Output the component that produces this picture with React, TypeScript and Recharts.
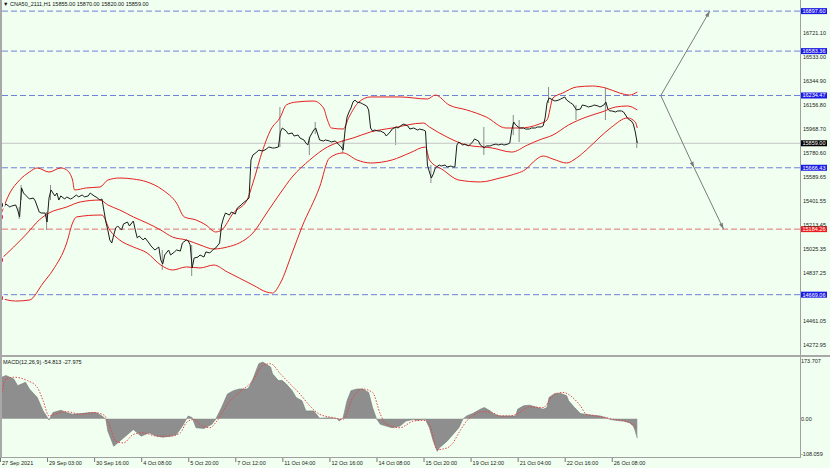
import { ComposedChart, Line, Bar, Area, XAxis, YAxis, ReferenceLine } from "recharts"

const BG = "#f0fff0"
const FONT = "Liberation Sans"

// header (last bar OHLC)
const symbolName = "CNA50_2111,H1"
const lastOHLC = [15855.0, 15870.0, 15820.0, 15859.0]
const macdTitle = "MACD(12,26,9) -54.813 -27.975"

// time axis: one label every 24 H1 bars
const timeLabels = [
  "27 Sep 2021", "29 Sep 03:00", "30 Sep 16:00", "4 Oct 08:00", "5 Oct 20:00",
  "7 Oct 12:00", "11 Oct 04:00", "12 Oct 16:00", "14 Oct 08:00", "15 Oct 20:00",
  "19 Oct 12:00", "21 Oct 04:00", "22 Oct 16:00", "26 Oct 08:00",
]
const timeTicks = timeLabels.map((_, k) => k * 24)

const priceTicks = [
  14272.95, 14461.05, 14837.25, 15025.35, 15213.45, 15401.55, 15589.65,
  15780.6, 15968.7, 16156.8, 16344.9, 16533.0, 16721.1,
]
const macdTicks = [173.707, 0, -108.059]

// [bar index, close]
const closes: [number, number][] = [
  [0,15374],[2,15358],[3,15382],[5,15358],[6,15366],[8,15374],[9,15335],[10,15280],[11,15508],[12,15468],
  [14,15437],[15,15421],[17,15429],[18,15405],[20,15319],[21,15311],[23,15311],[24,15240],[25,15429],[26,15492],
  [28,15445],[29,15468],[30,15413],[31,15445],[33,15421],[34,15437],[36,15421],[37,15429],[39,15453],[40,15437],
  [42,15453],[43,15437],[45,15445],[46,15468],[48,15445],[49,15437],[51,15413],[52,15421],[54,15240],[55,15177],
  [56,15099],[57,15075],[58,15138],[59,15193],[60,15209],[62,15177],[63,15225],[65,15240],[66,15209],[68,15248],
  [69,15177],[70,15115],[71,15130],[73,15099],[74,15115],[76,15075],[77,15052],[79,15020],[81,15044],[82,14942],
  [83,14910],[84,14981],[86,15020],[87,14981],[89,15005],[90,15020],[92,15012],[93,15075],[95,15099],[96,15091],
  [97,15060],[98,14879],[99,14957],[101,14965],[102,14981],[104,14965],[105,15005],[107,14997],[109,15028],[110,15036],
  [112,15075],[113,15217],[114,15272],[115,15311],[117,15295],[118,15319],[120,15303],[121,15350],[123,15374],[124,15390],
  [126,15413],[127,15429],[128,15728],[129,15767],[131,15790],[132,15806],[134,15798],[136,15814],[137,15830],[139,15822],
  [140,15822],[142,15830],[143,15948],[144,15979],[146,15955],[147,15932],[149,15940],[150,15916],[152,15924],[153,15900],
  [155,15885],[156,15861],[157,15845],[158,15908],[160,15963],[161,15979],[162,15932],[163,15885],[165,15877],[166,15885],
  [168,15877],[169,15869],[171,15877],[172,15861],[174,15830],[175,15806],[176,15963],[177,16065],[178,16105],[179,16136],
  [180,16183],[181,16199],[182,16183],[184,16176],[185,16168],[187,16152],[188,16121],[189,15979],[190,15955],[191,15963],
  [193,15955],[194,15955],[196,15940],[197,15916],[199,15948],[200,15971],[202,15987],[203,15979],[205,16003],[206,16010],
  [208,15995],[209,15971],[211,15979],[213,15963],[214,15971],[216,15963],[217,15955],[218,15688],[219,15633],[220,15586],
  [221,15618],[222,15665],[224,15688],[225,15680],[227,15688],[228,15673],[230,15680],[231,15673],[232,15673],[233,15845],
  [234,15869],[236,15845],[237,15853],[239,15838],[241,15869],[242,15893],[244,15877],[245,15845],[247,15822],[248,15838],
  [250,15838],[251,15845],[253,15853],[254,15845],[256,15853],[257,15845],[259,15853],[260,15861],[261,15963],[262,16026],
  [263,16003],[265,15979],[267,15979],[268,15971],[270,15971],[271,15979],[273,15979],[274,15987],[276,15987],[277,15995],
  [278,16058],[279,16176],[280,16215],[282,16199],[283,16191],[285,16199],[286,16207],[288,16223],[289,16199],[291,16176],
  [292,16168],[294,16121],[296,16128],[297,16160],[299,16152],[300,16144],[302,16152],[303,16160],[305,16152],[306,16144],
  [308,16160],[309,16183],[310,16128],[311,16113],[312,16113],[314,16105],[315,16113],[317,16113],[318,16105],[320,16058],
  [321,16042],[322,16034],[323,16010],[324,15948],[325,15859],
]

// [bar index, low, high] for the long wicks
const wicks: [number, number, number][] = [
  [10,15264,15358],[11,15413,15531],[24,15177,15319],[26,15413,15531],[83,14863,15020],[98,14816,15060],
  [143,15830,16144],[158,15767,15908],[161,15932,16026],[175,15783,15885],[202,15845,15987],[220,15547,15688],
  [247,15767,15987],[262,15924,16081],[265,15869,16042],[280,16176,16301],[294,16042,16160],[309,16042,16293],
  [325,15822,15885],
]

// Bollinger bands
const bbUpper: [number, number][] = [
  [0,15280],[5,15468],[10,15570],[15,15633],[19,15665],[25,15633],[31,15665],[34,15649],[37,15570],[38,15492],
  [44,15508],[51,15515],[55,15570],[61,15586],[68,15578],[75,15555],[83,15492],[90,15390],[94,15280],[100,15256],
  [105,15217],[110,15162],[113,15177],[119,15311],[126,15413],[129,15547],[134,15806],[138,15963],[143,16065],[146,16160],
  [151,16183],[160,16191],[165,16136],[167,16042],[169,15979],[175,15971],[178,16065],[183,16183],[189,16223],[204,16223],
  [218,16207],[222,16238],[229,16160],[238,16121],[248,16065],[258,15979],[265,15979],[275,16010],[279,16042],[282,16215],
  [287,16254],[294,16301],[302,16309],[309,16293],[316,16254],[321,16238],[325,16262],
]
const bbMiddle: [number, number][] = [
  [0,14942],[7,15044],[14,15154],[20,15256],[25,15311],[34,15358],[41,15398],[51,15413],[55,15374],[61,15335],
  [68,15280],[75,15232],[82,15177],[88,15122],[95,15099],[102,15060],[109,15028],[116,15044],[122,15075],[129,15154],
  [136,15311],[143,15468],[149,15594],[158,15728],[167,15830],[173,15869],[180,15900],[189,15948],[200,15979],[216,16018],
  [219,15987],[228,15908],[238,15845],[251,15822],[261,15790],[269,15845],[275,15885],[282,15924],[290,16003],[299,16065],
  [307,16105],[314,16144],[320,16152],[325,16121],
]
const bbLower: [number, number][] = [
  [0,14643],[8,14619],[15,14627],[22,14761],[27,14863],[34,15075],[37,15232],[39,15280],[51,15295],[52,15295],
  [56,15177],[61,15099],[68,15044],[75,14997],[82,14902],[88,14863],[95,14887],[102,14879],[109,14902],[116,14847],
  [122,14800],[129,14745],[136,14690],[139,14682],[143,14761],[149,14997],[154,15201],[163,15515],[168,15743],[175,15783],
  [182,15728],[189,15704],[200,15728],[209,15783],[217,15830],[219,15728],[226,15649],[234,15570],[245,15555],[255,15586],
  [261,15610],[269,15665],[272,15712],[277,15759],[282,15735],[289,15704],[294,15743],[299,15806],[306,15908],[312,15987],
  [320,16058],[324,16026],[325,15979],
]

// MACD main (histogram) and signal
const macdHist: [number, number][] = [
  [0,100],[1,116.7],[3,121.5],[7,112],[9,93],[11,97.7],[13,102.5],[15,83.5],[19,59.8],[22,21.8],[25,-3.8],
  [27,17.1],[31,23.7],[34,17.1],[37,12.3],[41,14.2],[46,17.1],[49,17.1],[52,7.6],[54,-1.9],[55,-35.1],
  [58,-77.8],[60,-68.3],[64,-49.3],[68,-30.4],[70,-39.9],[72,-49.3],[76,-39.9],[80,-49.3],[83,-52.2],[87,-49.3],
  [90,-44.6],[93,-20.9],[96,7.6],[98,2.8],[100,-25.6],[104,-27.5],[108,-16.1],[110,-1.9],[113,31.3],[116,69.3],
  [119,78.8],[122,83.5],[126,83.5],[127,88.3],[129,112],[132,154.7],[134,159.4],[138,145.2],[139,126.2],[142,107.2],
  [144,107.2],[146,97.7],[149,78.8],[151,59.8],[154,50.3],[156,21.8],[160,21.8],[163,0.9],[168,2.8],[172,0],
  [173,-6.6],[175,2.8],[177,50.3],[179,78.8],[182,83.5],[185,83.5],[188,74],[190,31.3],[192,0],[194,-16.1],
  [197,-20.9],[200,-25.6],[204,-20.9],[207,-6.6],[211,-1.9],[212,-4.7],[217,-1.9],[219,-25.6],[221,-63.6],[223,-92.1],
  [224,-82.6],[228,-63.6],[231,-44.6],[234,-25.6],[236,-1.9],[238,7.6],[241,14.2],[245,26.6],[247,31.3],[250,21.8],
  [252,12.3],[255,7.6],[258,7.6],[263,7.6],[264,26.6],[267,36.1],[270,38],[273,33.2],[277,26.6],[279,31.3],
  [280,59.8],[283,71.2],[286,71.2],[289,64.5],[290,50.3],[293,31.3],[296,14.2],[301,10.4],[306,7.6],[309,2.8],
  [311,-1.9],[314,-4.7],[318,-6.6],[321,-11.4],[323,-20.9],[324,-35.1],[325,-54.8],
]
const macdSignal: [number, number][] = [
  [0,40.8],[3,112],[7,116.7],[14,107.2],[19,88.3],[22,50.3],[25,7.6],[29,14.2],[34,19.9],[41,12.3],
  [48,17.1],[53,10.4],[56,-20.9],[59,-63.6],[63,-68.3],[68,-44.6],[73,-39.9],[80,-49.3],[87,-49.3],[92,-39.9],
  [95,-11.4],[99,-1.9],[102,-16.1],[107,-25.6],[110,-11.4],[116,40.8],[122,74],[129,107.2],[134,149.9],[138,154.7],
  [143,126.2],[148,97.7],[153,69.3],[158,36.1],[163,12.3],[170,2.8],[175,-1.9],[180,59.8],[185,83.5],[190,74],
  [194,12.3],[197,-16.1],[204,-25.6],[211,-6.6],[216,-4.7],[219,-16.1],[223,-87.3],[228,-82.6],[231,-68.3],[234,-39.9],
  [238,-6.6],[241,7.6],[246,19.9],[251,17.1],[255,7.6],[260,7.6],[265,17.1],[270,33.2],[277,31.3],[282,64.5],
  [287,74],[292,59.8],[296,36.1],[299,12.3],[304,7.6],[309,2.8],[313,-1.9],[316,-4.7],[321,-11.4],[323,-18],[325,-28],
]

// horizontal levels drawn on the chart
const levels = [
  { value: 16897.6, kind: "blue" },
  { value: 16583.36, kind: "blue" },
  { value: 16234.47, kind: "blue" },
  { value: 15666.43, kind: "blue" },
  { value: 15184.26, kind: "red" },
  { value: 14669.06, kind: "blue" },
]
const currentPrice = 15859.0

// projection arrows, [bar index, price]
const arrows: { from: [number, number]; to: [number, number] }[] = [
  { from: [337, 16234.47], to: [362, 16897.6] },
  { from: [337, 16234.47], to: [354, 15666.43] },
  { from: [354, 15666.43], to: [369, 15184.26] },
]

function merge(series: Record<string, [number, number][]>) {
  const rows = new Map<number, any>()
  for (const [key, pts] of Object.entries(series)) {
    for (const [i, v] of pts) {
      const row = rows.get(i) ?? { i }
      row[key] = v
      rows.set(i, row)
    }
  }
  return rows
}

const mainRows = merge({ close: closes, upper: bbUpper, mid: bbMiddle, lower: bbLower })
for (const [i, lo, hi] of wicks) {
  const row = mainRows.get(i) ?? { i }
  row.wick = [lo, hi]
  mainRows.set(i, row)
}
const mainData = [...mainRows.values()].sort((a, b) => a.i - b.i)
const macdData = [...merge({ hist: macdHist, sig: macdSignal }).values()].sort((a, b) => a.i - b.i)

const tagColor: Record<string, string> = { blue: "#1a1ae6", red: "#ee1c1c", black: "#000000" }
const lineColor: Record<string, string> = { blue: "#6f80d8", red: "#e07272" }

function LevelTag({ viewBox, value, kind }: any) {
  if (!viewBox) return null
  const x = viewBox.x + viewBox.width + 1
  const y = viewBox.y
  return (
    <g>
      <rect x={x} y={y - 3} width={26} height={6} fill={tagColor[kind]} />
      <text x={x + 1.5} y={y + 2} fontSize={5.5} fill="#fff" fontFamily={FONT}>
        {value.toFixed(2)}
      </text>
    </g>
  )
}

function ArrowShape(props: any) {
  const { x1, y1, x2, y2 } = props
  const a = Math.atan2(y2 - y1, x2 - x1)
  const bx = x2 - 6 * Math.cos(a)
  const by = y2 - 6 * Math.sin(a)
  const px = -Math.sin(a) * 2
  const py = Math.cos(a) * 2
  return (
    <g>
      <line x1={x1} y1={y1} x2={x2} y2={y2} stroke="#7c7c7c" strokeWidth={1} />
      <polygon points={`${x2},${y2} ${bx + px},${by + py} ${bx - px},${by - py}`} fill="#7c7c7c" />
    </g>
  )
}

const PriceTick = ({ x, y, payload }: any) => (
  <text x={x + 3} y={y + 1.5} fontSize={5.5} fill="#222" fontFamily={FONT}>
    {payload.value.toFixed(2)}
  </text>
)

const MacdTick = ({ x, y, payload }: any) => {
  const v = payload.value
  const dy = v > 0 ? 6 : v < 0 ? -1 : 2
  return (
    <text x={x + 1} y={y + dy} fontSize={5.5} fill="#222" fontFamily={FONT}>
      {v === 0 ? "0.00" : v.toFixed(3)}
    </text>
  )
}

const TimeTick = ({ x, y, payload }: any) => (
  <g>
    <line x1={x + 0.5} x2={x + 0.5} y1={y} y2={y + 5} stroke="#777" />
    <text x={x + 2} y={y + 8} fontSize={5.5} fill="#222" fontFamily={FONT}>
      {timeLabels[timeTicks.indexOf(payload.value)]}
    </text>
  </g>
)

export default function App() {
  return (
    <div style={{ position: "relative", width: 830, height: 468, background: BG, overflow: "hidden" }}>
      <style>{"body{margin:0}"}</style>
      <div style={{ position: "absolute", left: 0, top: 0 }}>
        <ComposedChart width={830} height={355} data={mainData} margin={{ top: 0, right: 0, bottom: 0, left: 0 }}>
          <XAxis dataKey="i" type="number" domain={[0, 408]} hide height={0} />
          <YAxis
            orientation="right"
            width={30}
            domain={[14195, 16985]}
            ticks={priceTicks}
            interval={0}
            allowDataOverflow
            axisLine={false}
            tickLine={false}
            tickSize={0}
            tickMargin={0}
            tick={<PriceTick />}
          />
          <ReferenceLine y={currentPrice} stroke="#c4c4c4" strokeWidth={1}
            label={<LevelTag value={currentPrice} kind="black" />} />
          {levels.map((l) => (
            <ReferenceLine key={l.value} y={l.value} stroke={lineColor[l.kind]} strokeDasharray="6 3"
              label={<LevelTag value={l.value} kind={l.kind} />} />
          ))}
          <Line dataKey="upper" type="monotone" stroke="#e52020" strokeWidth={1} dot={false} connectNulls isAnimationActive={false} />
          <Line dataKey="mid" type="monotone" stroke="#e52020" strokeWidth={1} dot={false} connectNulls isAnimationActive={false} />
          <Line dataKey="lower" type="monotone" stroke="#e52020" strokeWidth={1} dot={false} connectNulls isAnimationActive={false} />
          <Bar dataKey="wick" fill="#8a8a8a" barSize={1} isAnimationActive={false} />
          <Line dataKey="close" type="linear" stroke="#1c1c1c" strokeWidth={1} dot={false} connectNulls isAnimationActive={false} />
          {arrows.map((a, k) => (
            <ReferenceLine key={k} segment={[{ x: a.from[0], y: a.from[1] }, { x: a.to[0], y: a.to[1] }]}
              shape={ArrowShape} />
          ))}
        </ComposedChart>
      </div>
      <div style={{ position: "absolute", left: 0, top: 355 }}>
        <ComposedChart width={830} height={113} data={macdData} margin={{ top: 2, right: 0, bottom: 0, left: 0 }}>
          <XAxis
            dataKey="i"
            type="number"
            domain={[0, 408]}
            ticks={timeTicks}
            interval={0}
            height={11}
            axisLine={false}
            tickLine={false}
            tickSize={0}
            tickMargin={0}
            tick={<TimeTick />}
          />
          <YAxis
            orientation="right"
            width={30}
            domain={[-108.059, 173.707]}
            ticks={macdTicks}
            interval={0}
            allowDataOverflow
            axisLine={false}
            tickLine={false}
            tickSize={0}
            tickMargin={0}
            tick={<MacdTick />}
          />
          <Area dataKey="hist" type="linear" baseValue={0} fill="#8e8e8e" fillOpacity={1} stroke="#777"
            strokeWidth={0.6} connectNulls isAnimationActive={false} />
          <Line dataKey="sig" type="monotone" stroke="#e04848" strokeWidth={1} strokeDasharray="1.5 1.5"
            dot={false} connectNulls isAnimationActive={false} />
        </ComposedChart>
      </div>
      <svg width={830} height={468} style={{ position: "absolute", left: 0, top: 0, pointerEvents: "none" }}>
        <rect x={0} y={0} width={2} height={457} fill="#a8a8a8" />
        <rect x={800} y={0} width={1} height={457} fill="#a0a0a0" />
        <rect x={0} y={355} width={830} height={2} fill="#a8a8a8" />
        <rect x={0} y={457} width={801} height={1} fill="#a0a0a0" />
        <text x={3} y={6} fontSize={5.5} fill="#111" fontFamily={FONT}>
          {"▼ " + symbolName + "  " + lastOHLC.map((v) => v.toFixed(2)).join(" ")}
        </text>
        <text x={3} y={364} fontSize={5.5} fill="#111" fontFamily={FONT}>
          {macdTitle}
        </text>
      </svg>
    </div>
  )
}
